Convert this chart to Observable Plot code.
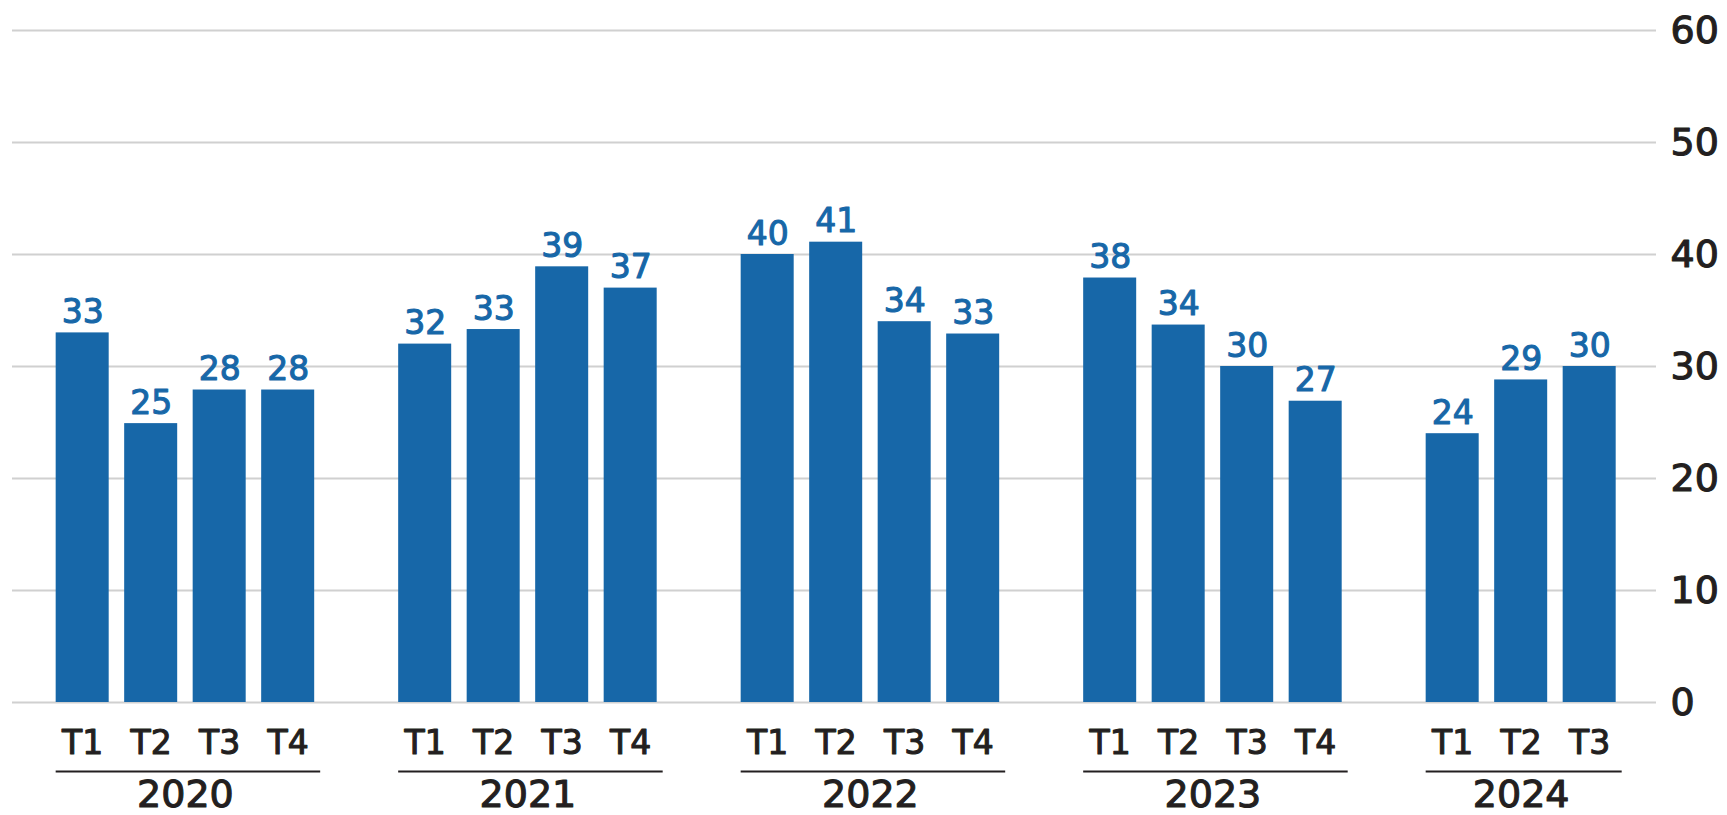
<!DOCTYPE html>
<html><head><meta charset="utf-8">
<script src="https://cdn.jsdelivr.net/npm/d3@7"></script>
<script src="https://cdn.jsdelivr.net/npm/@observablehq/plot@0.6"></script>
<style>
body{margin:0;background:#fff}
svg{display:block}
g[aria-label$="tick label"]{stroke:#231f20;stroke-width:1.1px;paint-order:stroke;stroke-linejoin:round}
</style>
</head><body><div id="chart"></div>
<script>
const years = ["2020", "2021", "2022", "2023", "2024"];
const quarters = ["T1", "T2", "T3", "T4"];
const values2020 = [33, 24.9, 27.9, 27.9];
const values2021 = [32, 33.3, 38.9, 37];
const values2022 = [40, 41.1, 34, 32.9];
const values2023 = [37.9, 33.7, 30, 26.9];
const values2024 = [24, 28.8, 30];
const yTicks = [0, 10, 20, 30, 40, 50, 60];

const valuesByYear = [values2020, values2021, values2022, values2023, values2024];
const data = years.flatMap((yr, i) => valuesByYear[i].map((v, j) => ({year: yr, quarter: quarters[j], key: yr + "-" + quarters[j], value: v})));
const keysByYear = years.map((yr, i) => valuesByYear[i].map((_, j) => yr + "-" + quarters[j]));
const xDomain = keysByYear.flatMap((keys, i) => i < years.length - 1 ? [...keys, "gap-" + years[i]] : keys);
const groups = years.map((yr, i) => {
  const keys = keysByYear[i];
  return {year: yr, first: keys[0], last: keys[keys.length - 1], mid: keys[Math.floor((keys.length - 1) / 2)], even: keys.length % 2 === 0};
});

const W = 1727, H = 815, ML = 12, MR = 71, MT = 30, MB = 113;
const PI = 0.226, PO = 0.613;
const step = (W - ML - MR) / (xDomain.length - PI + 2 * PO);
const blue = "#1767a8", ink = "#231f20";

const chart = Plot.plot({
  width: W, height: H,
  marginLeft: ML, marginRight: MR, marginTop: MT, marginBottom: MB,
  style: {fontFamily: "'DejaVu Sans', sans-serif", background: "#fff"},
  x: {type: "band", domain: xDomain, paddingInner: PI, paddingOuter: PO, align: 0.52, round: false, axis: null},
  y: {domain: [0, 60], axis: null},
  marks: [
    Plot.gridY(yTicks, {stroke: "#d0d0d0", strokeOpacity: 1, strokeWidth: 2}),
    Plot.barY(data, {x: "key", y: "value", fill: blue}),
    Plot.text(data, {x: "key", y: "value", text: d => String(Math.round(d.value)), lineAnchor: "bottom", dy: -10, fill: blue, stroke: blue, strokeWidth: 1.1, fontSize: 33}),
    Plot.axisY(yTicks, {anchor: "right", tickSize: 0, tickPadding: 14, fontSize: 38, fill: ink, label: null}),
    Plot.axisX(keysByYear.flat(), {anchor: "bottom", tickSize: 0, tickPadding: 28, fontSize: 33, fill: ink, tickFormat: k => k.split("-")[1], label: null}),
    Plot.ruleY(groups, {y: d => 0, x1: "first", x2: "last", dy: 69, stroke: ink, strokeWidth: 2, insetRight: -6}),
    Plot.text(groups.filter(g => g.even), {x: "mid", text: "year", frameAnchor: "bottom", dy: 104, dx: step / 2, lineAnchor: "bottom", fontSize: 38, fill: ink, stroke: ink, strokeWidth: 1.1}),
    Plot.text(groups.filter(g => !g.even), {x: "mid", text: "year", frameAnchor: "bottom", dy: 104, lineAnchor: "bottom", fontSize: 38, fill: ink, stroke: ink, strokeWidth: 1.1})
  ]
});
document.getElementById("chart").append(chart);
</script>
</body></html>
